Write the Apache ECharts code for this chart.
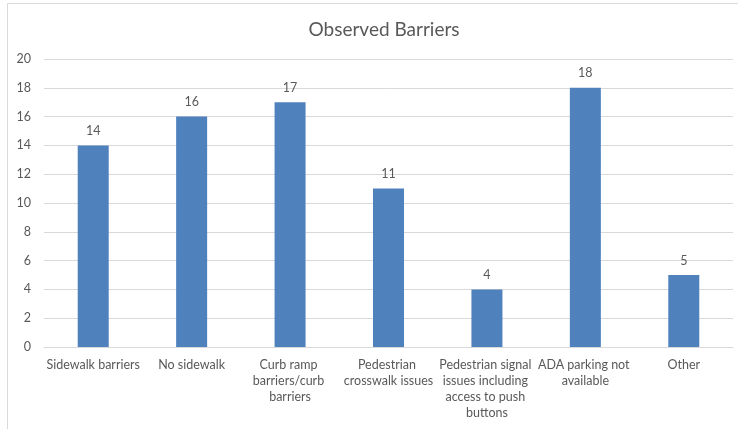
<!DOCTYPE html>
<html>
<head>
<meta charset="utf-8">
<script src="https://cdn.jsdelivr.net/npm/echarts@6/dist/echarts.min.js"></script>
<style>
  html, body { margin: 0; padding: 0; background: #ffffff; }
  #chart { width: 738px; height: 429px; }
</style>
</head>
<body>
<div id="chart"></div>
<script>
// Barrier categories and observation counts
const categories = [
  'Sidewalk barriers',
  'No sidewalk',
  'Curb ramp barriers/curb barriers',
  'Pedestrian crosswalk issues',
  'Pedestrian signal issues including access to push buttons',
  'ADA parking not available',
  'Other'
];
const counts = [14, 16, 17, 11, 4, 18, 5];
const yTicks = [0, 2, 4, 6, 8, 10, 12, 14, 16, 18, 20];

const textColor = '#595959';
const fontFamily = 'Lato, "Open Sans", sans-serif';

const chart = echarts.init(document.getElementById('chart'));
chart.setOption({
  animation: false,
  backgroundColor: '#ffffff',
  textStyle: { fontFamily: fontFamily },
  title: {
    text: 'Observed Barriers',
    left: 379,
    top: 15,
    textAlign: 'center',
    textStyle: { color: textColor, fontSize: 19, fontWeight: 'normal', fontFamily: fontFamily }
  },
  graphic: [{
    type: 'rect',
    shape: { x: 7.5, y: 3.5, width: 760, height: 460 },
    style: { fill: 'none', stroke: '#d9d9d9', lineWidth: 1 },
    silent: true,
    z: -1
  }],
  grid: { left: 44, right: 5, top: 59, bottom: 82, containLabel: false },
  xAxis: {
    type: 'category',
    data: categories,
    axisLine: { lineStyle: { color: '#d9d9d9' } },
    axisTick: { show: false },
    axisLabel: {
      color: textColor,
      fontSize: 12.5,
      margin: 10,
      interval: 0,
      width: 96,
      overflow: 'break',
      lineHeight: 16,
      fontFamily: fontFamily
    }
  },
  yAxis: {
    type: 'value',
    min: yTicks[0],
    max: yTicks[yTicks.length - 1],
    interval: 2,
    axisLine: { show: false },
    axisTick: { show: false },
    splitLine: { lineStyle: { color: '#d9d9d9' } },
    axisLabel: { color: textColor, fontSize: 12.5, margin: 13, fontFamily: fontFamily }
  },
  series: [{
    type: 'bar',
    data: counts,
    barWidth: 31,
    itemStyle: { color: '#4f81bd' },
    label: {
      show: true,
      position: 'top',
      distance: 8,
      color: textColor,
      fontSize: 12.5,
      fontFamily: fontFamily
    }
  }]
});
</script>
</body>
</html>
